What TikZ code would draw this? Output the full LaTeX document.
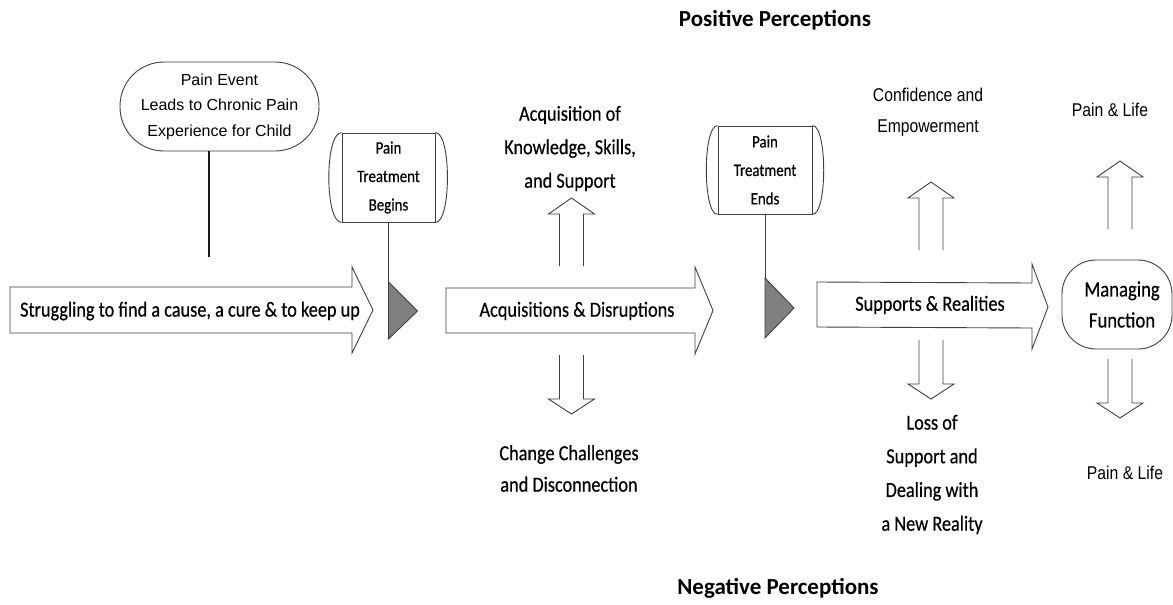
\documentclass[tikz,border=0pt]{standalone}
\usepackage{fontspec}
\setmainfont{Carlito}
\newfontfamily\calf[FakeStretch=0.85,FakeBold=0.4]{Carlito}
\newfontfamily\arialf{Liberation Sans}
\newfontfamily\arialn[FakeStretch=0.85]{Liberation Sans}
\begin{document}
\begin{tikzpicture}[x=1pt,y=-1pt,
  outl/.style={draw=black!75, line width=0.9pt, line join=miter},
  conn/.style={draw=black!75, line width=0.8pt},
  lbl/.style={inner sep=0pt, align=center, font=\calf\fontsize{21.5}{33.5}\selectfont},
  albl/.style={inner sep=0pt, align=center, font=\arialn\fontsize{18.5}{31}\selectfont},
  head/.style={inner sep=0pt, font=\bfseries\fontsize{23}{28}\selectfont},
  tbox/.style={outl, inner sep=0pt, align=center, font=\calf\fontsize{17.5}{28.5}\selectfont},
  tri/.style={outl, fill=black!50},
  hupa/.pic={\draw[outl] (-12,52) -- (-12,0) -- (-23,0) -- (0,-16) -- (23,0) -- (12,0) -- (12,52);},
  hdowna/.pic={\draw[outl] (-12,-44) -- (-12,0) -- (-23,0) -- (0,15) -- (23,0) -- (12,0) -- (12,-44);}
]
\useasboundingbox[fill=white] (0,0) rectangle (1173,605);

% headings
\node[head] (pos) at (775,20) {Positive Perceptions};
\node[head] (neg) at (778,588) {Negative Perceptions};

% pain event
\node[outl, rounded corners=44pt, minimum width=199pt, minimum height=89pt, inner sep=0pt, align=center,
  font=\arialf\fontsize{16}{25.5}\selectfont] (pe) at (219.5,106.5) {Pain Event\\Leads to Chronic Pain\\Experience for Child};
\coordinate (peend) at (209,257);
\draw[conn, draw=black!90, line width=1.3pt] (peend |- pe.south) -- (peend);

% big arrow 1
\draw[outl, fill=white] (10,287) -- (352,287) -- (352,267) -- (373,310) -- (352,353) -- (352,333) -- (10,333) -- cycle;
\node[lbl] (s1) at (190,311) {Struggling to find a cause, a cure \& to keep up};

% pain treatment begins
\node[tbox, minimum width=93pt, minimum height=89pt] (ptb) at (388.5,177.5) {Pain\\Treatment\\Begins};
\draw[outl] (ptb.north west) .. controls +(-17,0) and +(-17,0) .. (ptb.south west);
\draw[outl] (ptb.north east) .. controls +(16,0) and +(16,0) .. (ptb.south east);
\coordinate (t1) at (388.5,282);
\draw[tri] (t1) -- (417.5,311) -- (388.5,339) -- cycle;
\draw[conn] (ptb.south) -- (t1);

% big arrow 2
\draw[outl, fill=white] (446,288) -- (695,288) -- (695,267) -- (713,310.5) -- (695,354) -- (695,333) -- (446,333) -- cycle;
\node[lbl] (s2) at (577,311) {Acquisitions \& Disruptions};
\pic at (571.5,214) {hupa};
\node[lbl] (kss) at (570,148.5) {Acquisition of\\Knowledge, Skills,\\and Support};
\pic at (571.5,399) {hdowna};
\node[lbl, font=\calf\fontsize{21.5}{31.5}\selectfont] (ccd) at (569,468.5) {Change Challenges\\and Disconnection};

% pain treatment ends
\node[tbox, minimum width=94pt, minimum height=88pt] (pte) at (765,170) {Pain\\Treatment\\Ends};
\draw[outl] (pte.north west) .. controls +(-15,0) and +(-15,0) .. (pte.south west);
\draw[outl] (pte.north east) .. controls +(15,0) and +(15,0) .. (pte.south east);
\coordinate (t2) at (765,278);
\draw[tri] (t2) -- (794,308) -- (765,338) -- cycle;
\draw[conn] (pte.south) -- (t2);

% big arrow 3
\draw[outl, fill=white] (817,282) -- (1032,283) -- (1032,264) -- (1048,307) -- (1032,349) -- (1032,328) -- (817,327) -- cycle;
\node[lbl] (s3) at (930,305) {Supports \& Realities};
\pic at (931,198) {hupa};
\node[albl] (conf) at (928,112.5) {Confidence and\\Empowerment};
\pic at (931,384) {hdowna};
\node[lbl, font=\calf\fontsize{21.5}{33.7}\selectfont] (loss) at (932,474.5) {Loss of\\Support and\\Dealing with\\a New Reality};

% managing function
\node[outl, rounded corners=34pt, minimum width=110pt, minimum height=89pt, inner sep=0pt, align=center,
  font=\calf\fontsize{22}{31}\selectfont] (mf) at (1117,304.5) {\hspace*{10pt}Managing\\\hspace*{10pt}Function};
\pic at (1120,177) {hupa};
\node[albl] (pl1) at (1110,110) {Pain \& Life};
\pic at (1120,403) {hdowna};
\node[albl] (pl2) at (1125,473) {Pain \& Life};
\end{tikzpicture}
\end{document}
